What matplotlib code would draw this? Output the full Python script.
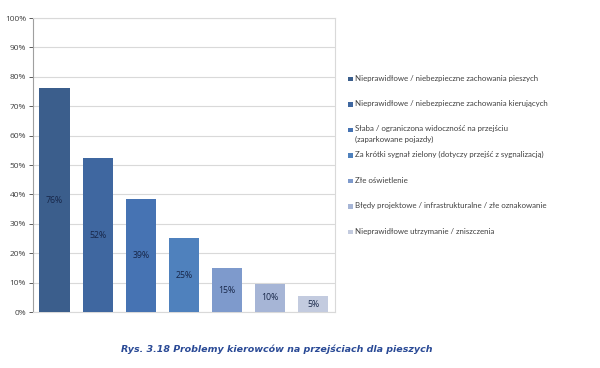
import matplotlib.pyplot as plt
from matplotlib.patches import Rectangle
from matplotlib.ticker import PercentFormatter

categories = [
    "Nieprawidłowe / niebezpieczne zachowania pieszych",
    "Nieprawidłowe / niebezpieczne zachowania kierujących",
    "Słaba / ograniczona widoczność na przejściu\n(zaparkowane pojazdy)",
    "Za krótki sygnał zielony (dotyczy przejść z sygnalizacją)",
    "Złe oświetlenie",
    "Błędy projektowe / infrastrukturalne / złe oznakowanie",
    "Nieprawidłowe utrzymanie / zniszczenia",
]
shares = [76.2, 52.4, 38.5, 25.2, 14.9, 9.6, 5.4]
share_labels = ["76%", "52%", "39%", "25%", "15%", "10%", "5%"]
colors = ["#3b5e8c", "#3f67a0", "#4673b3", "#4f81bd", "#7e9acc", "#a6b5d6", "#c3cbdf"]
yticks = list(range(0, 101, 10))

W, H = 600, 368
fig = plt.figure(figsize=(6, 3.68), dpi=100)
ax = fig.add_axes([0.055, 0.152, 0.503, 0.799])

x = list(range(len(categories)))
ax.bar(x, shares, width=0.7, color=colors, zorder=3)
for xi, v, lab in zip(x, shares, share_labels):
    ax.text(xi, v / 2, lab, ha="center", va="center", fontsize=6.3,
            color="#172648", family="Open Sans", zorder=4)

ax.set_xlim(-0.5, len(categories) - 0.5)
ax.set_ylim(0, 100)
ax.set_yticks(yticks)
ax.yaxis.set_major_formatter(PercentFormatter(decimals=0))
ax.tick_params(axis="y", labelsize=6, colors="#404040", length=3, width=0.6, pad=2)
ax.set_xticks([])
ax.grid(axis="y", color="#d9d9d9", linewidth=0.8, zorder=0)
for s in ["top", "right", "bottom"]:
    ax.spines[s].set_color("#d9d9d9")
    ax.spines[s].set_linewidth(0.8)
ax.spines["left"].set_color("#a0a0a0")
ax.spines["left"].set_linewidth(0.8)
for lab in ax.get_yticklabels():
    lab.set_family("Open Sans")

# legend drawn by hand, Excel style (fixed slot per entry)
y0, step = 79, 25.5
for i, (c, name) in enumerate(zip(colors, categories)):
    yy = y0 + i * step
    fig.patches.append(Rectangle((348 / W, 1 - (yy + 2.4) / H), 4.6 / W, 4.6 / H,
                                 transform=fig.transFigure, facecolor=c, edgecolor="none"))
    fig.text(355 / W, 1 - (yy - 4.5) / H, name, ha="left", va="top", fontsize=5.65,
             family="Lato", color="#404040", linespacing=1.5)

fig.text(0.462, 0.052, "Rys. 3.18 Problemy kierowców na przejściach dla pieszych",
         ha="center", va="center", fontsize=6.8, fontweight="bold", style="italic",
         color="#2a4a96", family="DejaVu Sans")

fig.savefig("out.png", dpi=100, facecolor="white")
